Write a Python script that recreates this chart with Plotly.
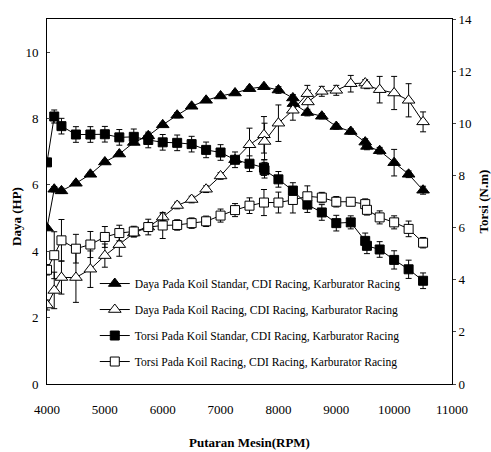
import plotly.graph_objects as go

# ---- data ----
rpm_daya_std = [4000, 4125, 4250, 4500, 4750, 5000, 5250, 5500, 5750, 6000, 6250, 6500, 6750, 7000, 7250,
                7500, 7750, 8000, 8250, 8260, 8500, 8750, 9000, 9250, 9500, 9530, 9750, 10000, 10250, 10500]
daya_std = [4.7, 5.87, 5.82, 6.05, 6.32, 6.69, 6.93, 7.28, 7.48, 7.81, 8.1, 8.37, 8.55, 8.68, 8.77,
            8.9, 8.96, 8.86, 8.62, 8.45, 8.18, 8.07, 7.76, 7.61, 7.29, 7.16, 7.03, 6.67, 6.32, 5.84]
daya_std_err = [0.05, 0.08, 0.08, 0.06, 0.06, 0.06, 0.06, 0.06, 0.06, 0.06, 0.08, 0.06, 0.06, 0.06, 0.06,
                0.06, 0.06, 0.1, 0.1, 0.1, 0.1, 0.08, 0.08, 0.08, 0.1, 0.1, 0.1, 0.4, 0.1, 0.12]

rpm_daya_rac = [4000, 4125, 4250, 4500, 4750, 5000, 5250, 5500, 5750, 6000, 6250, 6500, 6750, 7000, 7250,
                7500, 7750, 7760, 8000, 8250, 8500, 8510, 8750, 9000, 9250, 9500, 9530, 9750, 10000, 10250, 10500]
daya_rac = [2.38, 2.82, 3.21, 3.21, 3.46, 3.87, 4.2, 4.55, 4.73, 5.03, 5.38, 5.56, 5.87, 6.27, 6.76,
            7.21, 7.51, 7.31, 7.86, 8.25, 8.75, 8.5, 8.82, 8.85, 9.05, 9.07, 9.0, 8.87, 8.77, 8.55, 7.9]
daya_rac_err = [0.15, 0.55, 0.5, 0.75, 0.55, 0.35, 0.35, 0.12, 0.1, 0.1, 0.1, 0.1, 0.1, 0.1, 0.1,
                0.5, 0.55, 0.55, 0.55, 0.3, 0.25, 0.35, 0.15, 0.15, 0.25, 0.1, 0.1, 0.4, 0.5, 0.5, 0.3]

rpm_torsi_std = [4000, 4125, 4250, 4500, 4750, 5000, 5250, 5500, 5750, 6000, 6250, 6500, 6750, 7000, 7250,
                 7500, 7750, 7760, 8000, 8250, 8500, 8750, 9000, 9250, 9500, 9530, 9750, 10000, 10250, 10500]
torsi_std = [8.5, 10.26, 9.89, 9.57, 9.57, 9.58, 9.46, 9.48, 9.36, 9.27, 9.25, 9.2, 8.98, 8.88, 8.6,
             8.45, 8.3, 8.2, 7.85, 7.42, 6.88, 6.58, 6.17, 6.2, 5.49, 5.3, 5.16, 4.76, 4.4, 3.96]
torsi_std_err = [0.1, 0.25, 0.3, 0.3, 0.3, 0.3, 0.3, 0.3, 0.3, 0.3, 0.3, 0.3, 0.3, 0.3, 0.3,
                 0.3, 0.3, 0.3, 0.3, 0.3, 0.3, 0.3, 0.3, 0.25, 0.3, 0.3, 0.3, 0.35, 0.35, 0.3]

rpm_torsi_rac = [4000, 4125, 4250, 4500, 4750, 5000, 5250, 5500, 5750, 6000, 6250, 6500, 6750, 7000, 7250,
                 7500, 7750, 8000, 8250, 8500, 8750, 9000, 9250, 9500, 9530, 9750, 10000, 10250, 10500]
torsi_rac = [4.38, 4.94, 5.51, 5.19, 5.35, 5.64, 5.79, 5.85, 6.02, 6.08, 6.1, 6.17, 6.24, 6.46, 6.67,
             6.84, 6.96, 6.96, 7.06, 7.2, 7.15, 6.99, 6.99, 6.9, 6.68, 6.39, 6.2, 5.95, 5.42]
torsi_rac_err = [0.2, 0.9, 0.8, 0.55, 0.5, 0.4, 0.3, 0.2, 0.3, 0.5, 0.2, 0.2, 0.2, 0.25, 0.25,
                 0.3, 0.5, 0.4, 0.5, 0.4, 0.2, 0.2, 0.15, 0.2, 0.2, 0.25, 0.25, 0.3, 0.2]

names = [
    "Daya Pada Koil Standar, CDI Racing, Karburator Racing",
    "Daya Pada Koil Racing, CDI Racing, Karburator Racing",
    "Torsi Pada Koil Standar, CDI Racing, Karburator Racing",
    "Torsi Pada Koil Racing, CDI Racing, Karburator Racing",
]

FONT = "Liberation Serif, Times New Roman, serif"
BLACK = "#000000"
fig = go.Figure()

series = [
    (rpm_daya_std, daya_std, daya_std_err, "triangle-up", BLACK, "y", 11),
    (rpm_daya_rac, daya_rac, daya_rac_err, "triangle-up", "white", "y", 11),
    (rpm_torsi_std, torsi_std, torsi_std_err, "square", BLACK, "y2", 9),
    (rpm_torsi_rac, torsi_rac, torsi_rac_err, "square", "white", "y2", 9),
]
for i, (xs, ys, es, sym, fill, ax, sz) in enumerate(series):
    fig.add_trace(go.Scatter(
        x=xs, y=ys, yaxis=ax, name=names[i], mode="lines+markers",
        line=dict(color=BLACK, width=1),
        marker=dict(symbol=sym, size=sz, color=fill, line=dict(color=BLACK, width=1)),
        error_y=dict(type="data", array=es, color=BLACK, thickness=1, width=3),
        legendgroup=f"g{i}",
    ))

tickfont = dict(family=FONT, size=13, color=BLACK)
fig.update_layout(
    width=491, height=452,
    margin=dict(l=47, r=39, t=14, b=68),
    paper_bgcolor="white", plot_bgcolor="white",
    font=dict(family=FONT, size=13, color=BLACK),
    showlegend=True,
    legend=dict(x=0.118, y=0.315, xanchor="left", yanchor="top",
                bgcolor="rgba(0,0,0,0)", font=dict(family=FONT, size=11.6, color=BLACK),
                traceorder="grouped", tracegroupgap=7, itemwidth=30),
    xaxis=dict(range=[4000, 11000], dtick=1000, tickformat="d", showline=True, linecolor=BLACK,
               linewidth=1, mirror=True, showgrid=False, zeroline=False, ticks="",
               ticklabelstandoff=13, tickfont=tickfont),
    yaxis=dict(range=[0, 11], tickvals=[0, 2, 4, 6, 8, 10], showline=True, linecolor=BLACK,
               linewidth=1, showgrid=False, zeroline=False, ticks="inside", ticklen=3,
               tickfont=tickfont, ticklabelstandoff=5),
    yaxis2=dict(range=[0, 14], dtick=2, overlaying="y", side="right", showline=True,
                linecolor=BLACK, linewidth=1, showgrid=False, zeroline=False,
                ticks="outside", ticklen=3, tickfont=tickfont),
    annotations=[
        dict(text="<b>Daya (HP)</b>", xref="paper", yref="paper", x=-0.077, y=0.46,
             xanchor="center", yanchor="middle",
             textangle=-90, showarrow=False, font=dict(family=FONT, size=13, color=BLACK)),
        dict(text="<b>Torsi (N.m)</b>", xref="paper", yref="paper", x=1.079, y=0.5,
             xanchor="center", yanchor="middle",
             textangle=-90, showarrow=False, font=dict(family=FONT, size=13, color=BLACK)),
        dict(text="<b>Putaran Mesin(RPM)</b>", xref="paper", yref="paper", x=0.5, y=-0.16,
             xanchor="center", yanchor="middle", showarrow=False,
             font=dict(family=FONT, size=13, color=BLACK)),
    ],
)

fig.write_html("out.html")
